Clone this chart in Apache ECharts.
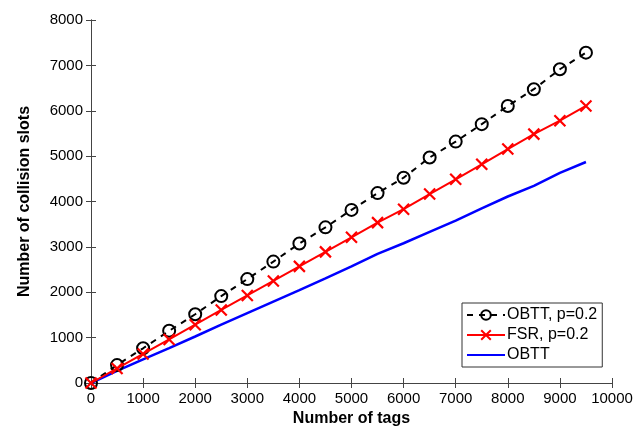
<!DOCTYPE html>
<html>
<head>
<meta charset="utf-8">
<script src="https://cdn.jsdelivr.net/npm/echarts@6/dist/echarts.min.js"></script>
<style>html,body{margin:0;padding:0;background:#fff}#c{width:638px;height:432px}</style>
</head>
<body>
<div id="c"></div>
<script>
const tags = [0,500,1000,1500,2000,2500,3000,3500,4000,4500,5000,5500,6000,6500,7000,7500,8000,8500,9000,9500];
const obttP = [0,395,765,1150,1515,1915,2290,2675,3075,3430,3815,4185,4525,4970,5320,5705,6105,6475,6915,7280];
const fsrP  = [0,320,640,960,1285,1610,1930,2250,2570,2890,3210,3535,3830,4165,4490,4820,5155,5485,5780,6105];
const obtt  = [0,265,520,770,1025,1285,1540,1795,2045,2305,2570,2845,3080,3330,3580,3850,4110,4345,4630,4870];
const xTicks = [0,10000,1000];
const yTicks = [0,8000,1000];

const font = "'Liberation Sans', Arial, sans-serif";
const axisColor = '#444';
const chart = echarts.init(document.getElementById('c'), null, {renderer:'canvas'});
const pair = a => tags.map((t,i)=>[t,a[i]]);
const crossPath = 'path://M0,0L10,10M10,0L0,10';
const plain = v => String(v);

chart.setOption({
  animation:false,
  backgroundColor:'#fff',
  grid:{left:91,right:26,top:20,bottom:49},
  xAxis:[{
    type:'value',min:xTicks[0],max:xTicks[1],interval:xTicks[2],
    name:'Number of tags',nameLocation:'middle',nameGap:28,
    nameTextStyle:{fontFamily:font,fontSize:16,fontWeight:'bold',color:'#000'},
    axisLine:{show:true,lineStyle:{color:axisColor,width:1}},
    axisTick:{show:true,inside:true,length:5,lineStyle:{color:axisColor}},
    axisLabel:{fontFamily:font,fontSize:15,color:'#000',margin:8,formatter:plain},
    splitLine:{show:false}
  },{
    type:'value',position:'top',min:xTicks[0],max:xTicks[1],interval:xTicks[2],
    axisLine:{show:true,lineStyle:{color:axisColor,width:1}},
    axisTick:{show:true,inside:true,length:5,lineStyle:{color:axisColor}},
    axisLabel:{show:false},splitLine:{show:false}
  }],
  yAxis:[{
    type:'value',min:yTicks[0],max:yTicks[1],interval:yTicks[2],
    name:'Number of collision slots',nameLocation:'middle',nameGap:58,
    nameTextStyle:{fontFamily:font,fontSize:16,fontWeight:'bold',color:'#000'},
    axisLine:{show:true,lineStyle:{color:axisColor,width:1}},
    axisTick:{show:true,inside:true,length:5,lineStyle:{color:axisColor}},
    axisLabel:{fontFamily:font,fontSize:15,color:'#000',margin:8,formatter:plain},
    splitLine:{show:false}
  },{
    type:'value',position:'right',min:yTicks[0],max:yTicks[1],interval:yTicks[2],
    axisLine:{show:true,lineStyle:{color:axisColor,width:1}},
    axisTick:{show:true,inside:true,length:5,lineStyle:{color:axisColor}},
    axisLabel:{show:false},splitLine:{show:false}
  }],
  legend:{
    orient:'vertical',left:462,top:303,
    backgroundColor:'#fff',borderColor:'#333',borderWidth:1,
    padding:[4,5,4,4],itemGap:4,itemWidth:38,itemHeight:12,
    textStyle:{fontFamily:font,fontSize:16,color:'#000',padding:[0,0,0,-3]},
    data:['OBTT, p=0.2','FSR, p=0.2',{name:'OBTT',itemStyle:{color:'rgba(0,0,0,0)',borderWidth:0,opacity:0}}]
  },
  series:[{
    name:'OBTT, p=0.2',type:'line',data:pair(obttP),
    symbol:'circle',symbolSize:12,showAllSymbol:true,
    lineStyle:{color:'#000',width:2,type:[6,6]},
    itemStyle:{color:'rgba(0,0,0,0)',borderColor:'#000',borderWidth:2},
    z:3
  },{
    name:'FSR, p=0.2',type:'line',data:pair(fsrP),
    symbol:crossPath,symbolSize:11,showAllSymbol:true,
    lineStyle:{color:'#ff0000',width:2},
    itemStyle:{color:'rgba(0,0,0,0)',borderColor:'#ff0000',borderWidth:2.2},
    z:4
  },{
    name:'OBTT',type:'line',data:pair(obtt),
    symbol:'none',
    lineStyle:{color:'#0000ff',width:2.5},
    itemStyle:{color:'#0000ff'},
    z:2
  }]
});
</script>
</body>
</html>
